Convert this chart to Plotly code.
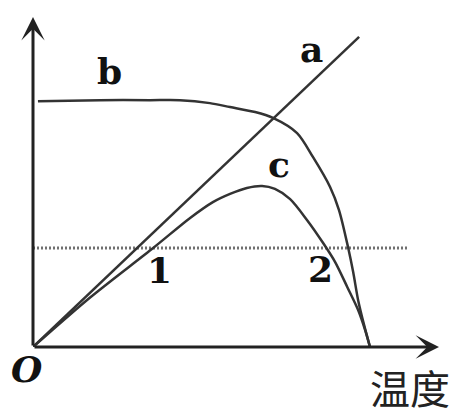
import plotly.graph_objects as go

# temperature (x) vs rate (y), arbitrary units
a_temp = [0.0, 9.88]
a_rate = [0.0, 9.40]

b_temp = [0.15, 2.03, 3.55, 4.45, 5.36, 5.97, 6.73, 7.27, 8.0, 8.48, 9.0, 9.27, 9.55, 9.7, 9.85, 10.03, 10.21]
b_rate = [7.45, 7.48, 7.48, 7.48, 7.39, 7.27, 7.12, 6.94, 6.48, 5.76, 4.85, 4.15, 3.0, 2.27, 1.42, 0.67, 0.0]

c_temp = [0.0, 1.73, 3.64, 4.76, 5.45, 5.97, 6.48, 6.94, 7.33, 7.79, 8.3, 8.79, 9.15, 9.52, 9.85, 10.06, 10.21]
c_rate = [0.0, 1.5, 3.0, 3.91, 4.39, 4.64, 4.82, 4.88, 4.79, 4.48, 3.85, 3.15, 2.58, 1.82, 1.12, 0.52, 0.0]

ref_temp = [0.0, 11.36]
ref_rate = [3.0, 3.0]

curve_labels = ['a', 'b', 'c']
point_labels = ['1', '2']
origin_label = 'O'
x_title = '温度'

X_MAX, Y_MAX = 12.3, 10.0
CURVE = '#333'
AXIS = '#222'
SERIF = 'DejaVu Serif'

fig = go.Figure()

# dotted reference level
fig.add_trace(go.Scatter(x=ref_temp, y=ref_rate, mode='lines',
                         line=dict(color='#707070', width=3, dash='2px,2px'),
                         hoverinfo='skip'))

fig.add_trace(go.Scatter(x=a_temp, y=a_rate, mode='lines',
                         line=dict(color=CURVE, width=2.5)))
fig.add_trace(go.Scatter(x=b_temp, y=b_rate, mode='lines',
                         line=dict(color=CURVE, width=2.5, shape='spline', smoothing=0.8)))
fig.add_trace(go.Scatter(x=c_temp, y=c_rate, mode='lines',
                         line=dict(color=CURVE, width=2.5, shape='spline', smoothing=0.8)))
fig.update_traces(cliponaxis=False)

# axes drawn as arrows
for tip, tail in [((0, Y_MAX), (0, 0)), ((X_MAX, 0), (0, 0))]:
    fig.add_annotation(x=tip[0], y=tip[1], ax=tail[0], ay=tail[1],
                       xref='x', yref='y', axref='x', ayref='y',
                       text='', showarrow=True, arrowhead=3, arrowsize=1.3,
                       arrowwidth=3, arrowcolor=AXIS, standoff=0, startstandoff=0)

bold = dict(family=SERIF, size=36, color='#111')
label_pos = {'a': (8.45, 9.03), 'b': (2.33, 8.36), 'c': (7.45, 5.55),
             '1': (3.82, 2.33), '2': (8.7, 2.36)}
for name in curve_labels + point_labels:
    px_, py_ = label_pos[name]
    fig.add_annotation(x=px_, y=py_, text='<b>%s</b>' % name, showarrow=False, font=bold)

# labels below the axis sit outside the data range, so place them on paper
fig.add_annotation(x=-0.015, y=-0.067, xref='paper', yref='paper',
                   xanchor='center', yanchor='middle',
                   text='<b><i>%s</i></b>' % origin_label, showarrow=False, font=bold)
fig.add_annotation(x=0.928, y=-0.121, xref='paper', yref='paper',
                   xanchor='center', yanchor='middle',
                   text=x_title, showarrow=False,
                   font=dict(family='Noto Sans CJK SC', size=40, color='#222'))

fig.update_xaxes(range=[0, X_MAX], visible=False, fixedrange=True)
fig.update_yaxes(range=[0, Y_MAX], visible=False, fixedrange=True)
# page body adds 8px, margins compensate
fig.update_layout(
    width=472, height=420,
    margin=dict(l=25, r=41, t=9, b=81),
    plot_bgcolor='white', paper_bgcolor='white',
    showlegend=False,
)

fig.write_html('out.html')
